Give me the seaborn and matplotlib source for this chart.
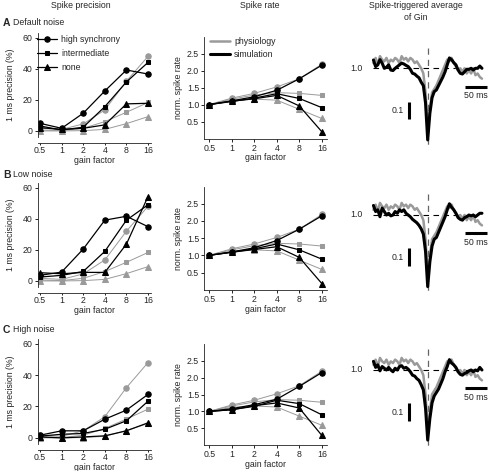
import matplotlib
matplotlib.use('Agg')
import numpy as np
import pandas as pd
import matplotlib.pyplot as plt
import seaborn as sns
from matplotlib.lines import Line2D

# gain factors and tick labels
gain = [0.5, 1, 2, 4, 8, 16]
gain_labels = ['0.5', '1', '2', '4', '8', '16']
sync_levels = ['high synchrony', 'intermediate', 'none']

# 1 ms precision (%) - physiology (grey, same in all rows)
prec_phys_high = [1.7, 1.0, 4.5, 13.5, 32.0, 48.0]
prec_phys_mid = [0.6, 0.2, 1.7, 6.0, 12.0, 18.3]
prec_phys_none = [0.0, 0.0, 0.2, 1.0, 4.7, 9.2]

# 1 ms precision (%) - simulation, per noise level
prec_A_high = [4.9, 1.7, 11.4, 25.7, 39.2, 36.6]
prec_A_mid = [3.2, 0.6, 2.4, 15.6, 31.5, 44.1]
prec_A_none = [2.1, 1.0, 1.7, 3.9, 17.4, 17.8]
prec_B_high = [3.6, 5.7, 20.5, 39.1, 41.6, 34.9]
prec_B_mid = [2.5, 3.6, 6.1, 19.0, 39.1, 49.0]
prec_B_none = [5.3, 4.6, 5.5, 5.5, 23.7, 54.3]
prec_C_high = [1.7, 4.5, 4.5, 11.9, 17.7, 27.7]
prec_C_mid = [1.1, 2.3, 2.8, 5.5, 10.9, 23.4]
prec_C_none = [0.6, 0.0, 0.6, 1.3, 4.5, 9.6]

# normalised spike rate - physiology
rate_phys_high = [1.0, 1.19, 1.33, 1.52, 1.76, 2.19]
rate_phys_mid = [1.0, 1.16, 1.28, 1.35, 1.33, 1.27]
rate_phys_none = [1.0, 1.12, 1.16, 1.13, 0.86, 0.59]

# normalised spike rate - simulation
rate_A_high = [1.0, 1.11, 1.23, 1.42, 1.76, 2.16]
rate_A_mid = [1.0, 1.09, 1.19, 1.32, 1.18, 0.91]
rate_A_none = [1.0, 1.10, 1.17, 1.27, 0.96, 0.20]
rate_B_high = [1.0, 1.10, 1.22, 1.43, 1.76, 2.15]
rate_B_mid = [1.0, 1.09, 1.19, 1.33, 1.16, 0.89]
rate_B_none = [1.0, 1.09, 1.17, 1.25, 0.94, 0.18]
rate_C_high = [1.0, 1.08, 1.20, 1.36, 1.74, 2.15]
rate_C_mid = [1.0, 1.05, 1.15, 1.33, 1.23, 0.90]
rate_C_none = [1.0, 1.05, 1.17, 1.25, 1.10, 0.29]

# spike-triggered average of Gin (time in ms, 5 ms steps)
sta_t = list(range(-125, 130, 5))
sta_phys = [1.03, 1.06, 1.02, 1.07, 1.05, 1.04, 1.06, 1.03, 1.05, 1.04, 1.06, 1.05, 1.03,
            1.07, 1.05, 1.06, 1.04, 1.06, 1.05, 1.03, 1.04, 1.02, 1.00, 0.97, 0.86, 0.645,
            0.76, 0.86, 0.88, 0.90, 0.93, 0.96, 0.99, 1.02, 1.05, 1.04, 1.06, 1.03, 1.01,
            0.99, 1.00, 0.98, 1.00, 0.97, 0.99, 0.97, 1.00, 0.96, 0.97, 0.95, 0.94]
sta_A_sim = [1.048, 1.01, 1.02, 1.05, 1.03, 1.00, 1.006, 1.02, 0.99, 0.987, 1.00, 1.01, 1.02,
             1.03, 1.025, 1.017, 1.01, 0.994, 0.971, 0.967, 0.955, 0.945, 0.92, 0.90, 0.80, 0.586,
             0.74, 0.83, 0.865, 0.875, 0.90, 0.925, 0.95, 0.98, 1.02, 1.06, 1.05, 1.033, 1.02,
             0.99, 0.971, 0.967, 0.98, 0.994, 0.994, 1.00, 0.99, 1.00, 1.00, 1.013, 1.00]
sta_B_sim = [1.055, 1.02, 1.03, 0.99, 1.04, 1.02, 1.00, 1.01, 0.995, 1.00, 1.02, 1.01, 1.03,
             1.02, 1.03, 1.01, 1.00, 0.99, 0.975, 0.965, 0.955, 0.94, 0.92, 0.89, 0.79, 0.586,
             0.73, 0.82, 0.86, 0.87, 0.90, 0.93, 0.96, 0.99, 1.03, 1.065, 1.045, 1.03, 1.01,
             0.985, 0.975, 0.97, 0.985, 0.99, 1.00, 0.995, 1.00, 0.99, 1.00, 1.01, 1.01]
sta_C_sim = [1.05, 1.015, 1.03, 0.995, 1.02, 1.01, 1.00, 1.015, 1.00, 0.99, 1.01, 1.00, 1.02,
             1.025, 1.01, 1.015, 1.005, 0.99, 0.97, 0.965, 0.95, 0.94, 0.915, 0.885, 0.78, 0.595,
             0.72, 0.81, 0.85, 0.87, 0.89, 0.92, 0.95, 0.99, 1.02, 1.06, 1.04, 1.03, 1.015,
             0.99, 0.975, 0.97, 0.98, 0.985, 0.995, 1.00, 0.99, 1.00, 0.995, 1.015, 1.00]

rows = [
    ('A', 'Default noise', [prec_A_high, prec_A_mid, prec_A_none],
     [rate_A_high, rate_A_mid, rate_A_none], sta_A_sim),
    ('B', 'Low noise', [prec_B_high, prec_B_mid, prec_B_none],
     [rate_B_high, rate_B_mid, rate_B_none], sta_B_sim),
    ('C', 'High noise', [prec_C_high, prec_C_mid, prec_C_none],
     [rate_C_high, rate_C_mid, rate_C_none], sta_C_sim),
]
prec_phys = [prec_phys_high, prec_phys_mid, prec_phys_none]
rate_phys = [rate_phys_high, rate_phys_mid, rate_phys_none]

sns.set_style('ticks')
plt.rcParams['font.family'] = ['Liberation Sans', 'DejaVu Sans']
FS = 6.3
GREY = '#9a9a9a'
markers = ['o', 's', '^']
msizes = [3.9, 3.4, 4.6]

W, H = 490, 471
fig = plt.figure(figsize=(W / 100, H / 100), dpi=100)


def box(l, t, r, b):
    return [l / W, 1 - b / H, (r - l) / W, (b - t) / H]


def style_axes(ax, tlen, tpad):
    ax.set_xscale('log', base=2)
    ax.set_xticks(gain, labels=gain_labels)
    ax.minorticks_off()
    ax.tick_params(labelsize=FS, length=2.2, width=0.6, pad=1.5, color='black')
    ax.tick_params(axis='x', length=tlen, pad=tpad)
    for s in ax.spines.values():
        s.set_linewidth(0.6)
        s.set_color('#222222')
    ax.set_xlabel('gain factor', fontsize=FS, labelpad=0.5)


def draw_series(ax, phys, sim, label=False):
    for i in range(3):
        sns.lineplot(x=gain, y=phys[i], ax=ax, color=GREY, marker=markers[i],
                     markersize=msizes[i], markeredgecolor=GREY, linewidth=0.7)
    for i in range(3):
        sns.lineplot(x=gain, y=sim[i], ax=ax, color='black', marker=markers[i],
                     markersize=msizes[i], markeredgecolor='black', linewidth=0.9,
                     label=sync_levels[i] if label else None)


prec_boxes = [(37.8, 33, 151, 137), (37.8, 183, 151, 287), (37.8, 339, 151, 444)]
rate_boxes = [(204.3, 36.7, 326.7, 138.5), (204.3, 186.6, 326.7, 289.7), (204.3, 343.8, 326.7, 445.2)]
sta_level = [68.3, 215.0, 370.0]
panel_y = [22.5, 174.5, 330]

for r, (letter, name, prec_sim, rate_sim, sta_sim) in enumerate(rows):
    # precision
    ax = fig.add_axes(box(*prec_boxes[r]))
    draw_series(ax, prec_phys, prec_sim, label=(r == 0))
    ax.set_xlim(0.466, 17.6)
    ax.set_ylim(-3.9, 63)
    ax.set_yticks([0, 20, 40, 60])
    style_axes(ax, 1.5, 0.6)
    ax.set_ylabel('1 ms precision (%)', fontsize=FS, labelpad=5.5)
    sns.despine(ax=ax, offset={'bottom': 4.3, 'left': 0})
    if r == 0:
        ax.legend(loc='upper left', bbox_to_anchor=(-0.01, 0.98), fontsize=FS, frameon=False,
                  handlelength=2.3, handletextpad=0.5, labelspacing=0.55, borderaxespad=0,
                  borderpad=0)

    # spike rate
    ax2 = fig.add_axes(box(*rate_boxes[r]))
    draw_series(ax2, rate_phys, rate_sim)
    ax2.set_xlim(0.43, 18.6)
    ax2.set_ylim(0, 3)
    ax2.set_yticks([0.5, 1.0, 1.5, 2.0, 2.5], labels=['0.5', '1.0', '1.5', '2.0', '2.5'])
    style_axes(ax2, 2.2, 1.5)
    ax2.set_ylabel('norm. spike rate', fontsize=FS, labelpad=3)
    sns.despine(ax=ax2)
    if r == 0:
        hs = [Line2D([], [], color=GREY, lw=1.8), Line2D([], [], color='black', lw=2.2)]
        ax2.legend(hs, ['physiology', 'simulation'], loc='upper left', bbox_to_anchor=(0.05, 1.0),
                   fontsize=FS, frameon=False, handlelength=2.2, handletextpad=0.5,
                   labelspacing=0.5, borderaxespad=0, borderpad=0)

    # spike-triggered average
    y1 = sta_level[r]
    top, bot = y1 - 28, y1 + 87
    ax3 = fig.add_axes(box(345, top, 490, bot))
    ax3.set_xlim((345 - 427.7) / 0.434, (490 - 427.7) / 0.434)
    ax3.set_ylim(1 - (bot - y1) / 173, 1 + (y1 - top) / 173)
    ax3.axis('off')
    ax3.plot([-125, 125], [1, 1], color='black', lw=0.8, ls=(0, (5, 4)))
    ax3.plot([0, 0], [1.12, 0.535], color='#666666', lw=0.9, ls=(0, (5, 4)))
    sns.lineplot(x=sta_t, y=sta_phys, ax=ax3, color=GREY, linewidth=1.8)
    sns.lineplot(x=sta_t, y=sta_sim, ax=ax3, color='black', linewidth=2.2)
    ax3.plot([-42.4, -42.4], [0.707, 0.807], color='black', lw=2.2, solid_capstyle='butt')
    ax3.text(-55, 0.757, '0.1', fontsize=FS, ha='right', va='center')
    ax3.plot([86, 136], [0.894, 0.894], color='black', lw=2.2, solid_capstyle='butt')
    ax3.text(111, 0.84, '50 ms', fontsize=FS, ha='center', va='center')
    ax3.text(-150, 1.0, '1.0', fontsize=FS, ha='right', va='center')

    # panel labels
    fig.text(3 / W, 1 - panel_y[r] / H, letter, fontsize=7.5, fontweight='bold', va='center')
    fig.text(13 / W, 1 - panel_y[r] / H, name, fontsize=FS, va='center')

fig.text(81 / W, 1 - 6 / H, 'Spike precision', fontsize=FS, ha='center', va='center')
fig.text(260 / W, 1 - 6 / H, 'Spike rate', fontsize=FS, ha='center', va='center')
fig.text(416 / W, 1 - 6 / H, 'Spike-triggered average', fontsize=FS, ha='center', va='center')
fig.text(416 / W, 1 - 17 / H, 'of Gin', fontsize=FS, ha='center', va='center')

fig.savefig('out.png', dpi=100)
